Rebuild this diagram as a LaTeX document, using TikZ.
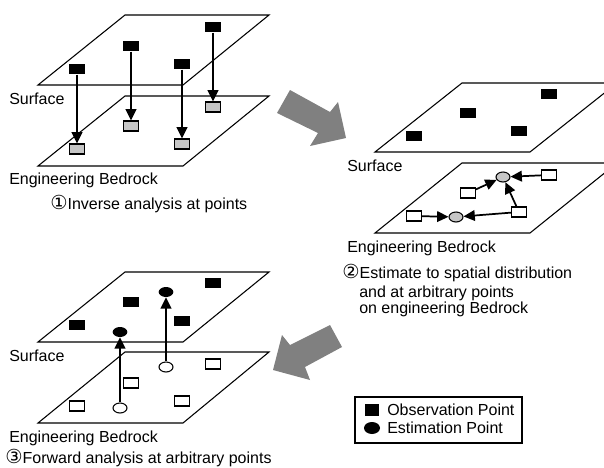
\documentclass[tikz,border=0pt]{standalone}
\usepackage{fontspec}
\setmainfont{Liberation Sans}
\newfontfamily\circfont{DejaVu Sans}
\usetikzlibrary{shapes,arrows.meta}

\begin{document}
\begin{tikzpicture}[x=0.75pt,y=-0.75pt]
\tikzstyle{plane}=[line width=0.8pt,line join=miter]
\tikzstyle{obs}=[rectangle,fill=black,minimum width=11.5pt,minimum height=8pt,inner sep=0pt]
\tikzstyle{bed}=[rectangle,draw,line width=0.8pt,fill=gray!45,minimum width=11pt,minimum height=7.5pt,inner sep=0pt]
\tikzstyle{cand}=[bed,fill=white]
\tikzstyle{est}=[ellipse,fill=black,minimum width=11pt,minimum height=7.5pt,inner sep=0pt]
\tikzstyle{grid}=[ellipse,draw,line width=0.8pt,fill=gray!45,minimum width=10.5pt,minimum height=7.5pt,inner sep=0pt]
\tikzstyle{open}=[grid,fill=white]
\tikzstyle{link}=[line width=1.3pt,-{Triangle[length=8.5pt,width=8pt]}]
\tikzstyle{txt}=[anchor=base west,inner sep=0pt,font=\fontsize{12}{14}\selectfont]
\tikzstyle{bigarrow}=[fill=black!50]
\newcommand{\stepno}[1]{{\circfont\fontsize{14.5}{14}\selectfont #1}}
\useasboundingbox (0,0) rectangle (604,468);
\clip (0,0) rectangle (604,468);
\draw[plane] (38,85) -- (183,85) -- (269,15) -- (125,15) -- cycle;
\draw[plane] (38,166) -- (183,166) -- (269,96) -- (125,96) -- cycle;
\node[obs] (a1) at (77,69) {};
\node[obs] (a2) at (131,46) {};
\node[obs] (a3) at (182,64) {};
\node[obs] (a4) at (213,27) {};
\node[bed] (b1) at (77,149) {};
\node[bed] (b2) at (131,126) {};
\node[bed] (b3) at (182,144) {};
\node[bed] (b4) at (213,107) {};
\draw[link] (a1) -- (b1);
\draw[link] (a2) -- (b2);
\draw[link] (a3) -- (b3);
\draw[link] (a4) -- (b4);
\node[txt] (surf1) at (9,104) {Surface};
\node[txt] (rock1) at (9,184) {Engineering Bedrock};
\node[txt] (step1) at (50,209) {\stepno{①}Inverse analysis at points};
\fill[bigarrow] (290,90) -- (330,112) -- (338,102) -- (346,138) -- (310,146) -- (318,133) -- (277,113) -- cycle;
\draw[plane] (375,152) -- (530,152) -- (617,83) -- (462,83) -- cycle;
\draw[plane] (375,233) -- (530,233) -- (617,163) -- (462,163) -- cycle;
\node[obs] (c1) at (414,136) {};
\node[obs] (c2) at (468,113) {};
\node[obs] (c3) at (519,131) {};
\node[obs] (c4) at (549,94) {};
\node[cand] (s1) at (414,216) {};
\node[cand] (s2) at (468,193) {};
\node[cand] (s3) at (519,212) {};
\node[cand] (s4) at (549,175) {};
\node[grid] (g1) at (456,217) {};
\node[grid] (g2) at (503,177) {};
\draw[link] (s1) -- (g1);
\draw[link] (s3) -- (g1);
\draw[link] (s2) -- (g2);
\draw[link] (s4) -- (g2);
\draw[link] (s3) -- (g2);
\node[txt] (surf2) at (347,171) {Surface};
\node[txt] (rock2) at (347,252) {Engineering Bedrock};
\node[txt] (step2) at (342,278) {\stepno{②}Estimate to spatial distribution};
\node[txt] (step2b) at (359,297) {and at arbitrary points};
\node[txt] (step2c) at (359,313) {on engineering Bedrock};
\fill[bigarrow] (330,325) -- (342,347) -- (305,367) -- (310,380) -- (273,370) -- (282,335) -- (290,345) -- cycle;
\draw[plane] (38,342) -- (183,342) -- (269,272) -- (125,272) -- cycle;
\draw[plane] (38,423) -- (183,423) -- (269,352) -- (125,352) -- cycle;
\node[obs] (d1) at (77,325) {};
\node[obs] (d2) at (131,302) {};
\node[obs] (d3) at (182,321) {};
\node[obs] (d4) at (213,283) {};
\node[est] (e1) at (120,332) {};
\node[est] (e2) at (166,292) {};
\node[cand] (w1) at (77,406) {};
\node[cand] (w2) at (131,383) {};
\node[cand] (w3) at (182,401) {};
\node[cand] (w4) at (213,364) {};
\node[open] (o1) at (120,408) {};
\node[open] (o2) at (166,367) {};
\draw[link] (o1) -- (e1);
\draw[link] (o2) -- (e2);
\node[txt] (surf3) at (9,361) {Surface};
\node[txt] (rock3) at (9,442) {Engineering Bedrock};
\node[txt] (step3) at (5,463.5) {\stepno{③}Forward analysis at arbitrary points};
\draw[line width=0.8pt] (355,397) rectangle (522,443);
\node[obs,minimum width=11pt,minimum height=9pt] (keyobs) at (372,410) {};
\node[est,minimum width=12pt,minimum height=9pt] (keyest) at (372,428) {};
\node[txt] (keyobst) at (387,415) {Observation Point};
\node[txt] (keyestt) at (387,433) {Estimation Point};
\end{tikzpicture}
\end{document}
